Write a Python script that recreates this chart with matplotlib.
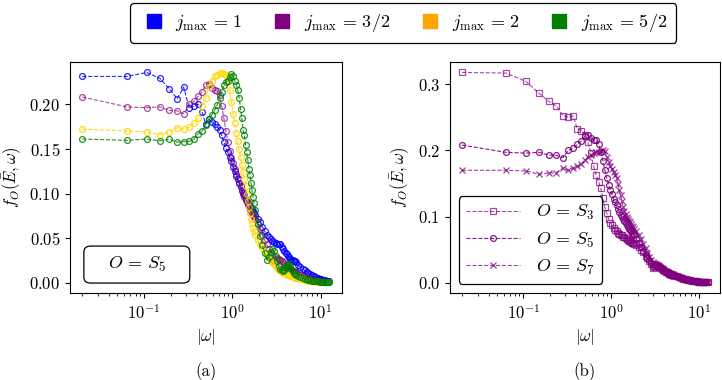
import numpy as np
import matplotlib
matplotlib.use("Agg")
import matplotlib.pyplot as plt
from matplotlib.lines import Line2D
from matplotlib.patches import FancyBboxPatch

plt.rcParams['font.family'] = 'serif'
plt.rcParams['font.serif'] = ['cmr10']
plt.rcParams['mathtext.fontset'] = 'cm'
plt.rcParams['axes.formatter.use_mathtext'] = True
plt.rcParams['font.size'] = 12

# omega grid: w_k = w0 + dw*k, sampled at these k
w0 = 0.02
dw = 0.0435
K = np.r_[0:42, 44:120:3, 127:288:8]
omega = w0 + dw * K

# --- panel (a): O = S_5, different j_max ---
f_j1 = [0.231, 0.231, 0.2355, 0.229, 0.217, 0.206, 0.219, 0.196, 0.198, 0.200,
        0.191, 0.178, 0.183, 0.180, 0.178, 0.175, 0.171, 0.165, 0.158, 0.151,
        0.146, 0.141, 0.136, 0.130, 0.125, 0.120, 0.116, 0.112, 0.108, 0.104,
        0.101, 0.098, 0.094, 0.092, 0.090, 0.088, 0.086, 0.084, 0.082, 0.080, 0.078, 0.076,
        0.072, 0.068, 0.063, 0.058, 0.054, 0.051, 0.049, 0.047, 0.046, 0.045,
        0.044, 0.044, 0.043, 0.040, 0.038, 0.036, 0.034, 0.032, 0.030, 0.029,
        0.027, 0.026, 0.026, 0.025, 0.024, 0.023,
        0.020, 0.018, 0.016, 0.014, 0.012, 0.011, 0.0095, 0.0085, 0.0075, 0.0067,
        0.006, 0.0053, 0.0047, 0.0042, 0.0037, 0.0033, 0.0029, 0.0026, 0.0023, 0.002, 0.0018]

f_j32 = [0.208, 0.197, 0.196, 0.197, 0.193, 0.1925, 0.189, 0.200, 0.203, 0.209,
         0.214, 0.221, 0.223, 0.218, 0.216, 0.215, 0.210, 0.198, 0.184, 0.170,
         0.158, 0.148, 0.140, 0.134, 0.127, 0.122, 0.117, 0.112, 0.107, 0.103,
         0.099, 0.096, 0.093, 0.090, 0.087, 0.085, 0.082, 0.080, 0.078, 0.076, 0.074, 0.072,
         0.066, 0.060, 0.054, 0.048, 0.043, 0.038, 0.034, 0.030, 0.024, 0.027,
         0.028, 0.027, 0.026, 0.024, 0.023, 0.021, 0.019, 0.018, 0.017, 0.016,
         0.015, 0.014, 0.0135, 0.013, 0.0125, 0.012,
         0.0105, 0.0092, 0.008, 0.007, 0.006, 0.0052, 0.0045, 0.0039, 0.0034, 0.003,
         0.0026, 0.0023, 0.002, 0.0018, 0.0016, 0.0014, 0.0012, 0.0011, 0.001, 0.0009, 0.0008]

f_j2 = [0.172, 0.170, 0.169, 0.166, 0.1685, 0.1737, 0.172, 0.174, 0.179, 0.185,
        0.198, 0.207, 0.219, 0.226, 0.231, 0.233, 0.235, 0.235, 0.234, 0.233,
        0.229, 0.216, 0.202, 0.189, 0.179, 0.168, 0.159, 0.150, 0.141, 0.132,
        0.124, 0.116, 0.108, 0.100, 0.092, 0.085, 0.078, 0.072, 0.067, 0.062, 0.058, 0.054,
        0.048, 0.043, 0.039, 0.035, 0.031, 0.028, 0.025, 0.023, 0.021, 0.019,
        0.0165, 0.015, 0.0135, 0.0125, 0.0115, 0.011, 0.0105, 0.0095, 0.009, 0.0085,
        0.008, 0.0075, 0.007, 0.0065, 0.006, 0.0058,
        0.005, 0.0045, 0.004, 0.0035, 0.003, 0.0027, 0.0024, 0.0021, 0.0019, 0.0017,
        0.0015, 0.0013, 0.0012, 0.0011, 0.001, 0.0009, 0.0008, 0.0007, 0.0006, 0.0005, 0.0005]

f_j52 = [0.161, 0.1595, 0.161, 0.159, 0.1607, 0.1576, 0.158, 0.1584, 0.161, 0.167,
         0.170, 0.177, 0.183, 0.188, 0.193, 0.199, 0.207, 0.214, 0.221, 0.225,
         0.226, 0.230, 0.234, 0.232, 0.226, 0.222, 0.216, 0.207, 0.195, 0.184,
         0.171, 0.165, 0.154, 0.146, 0.137, 0.128, 0.121, 0.112, 0.104, 0.096, 0.089, 0.082,
         0.066, 0.053, 0.042, 0.033, 0.026, 0.029, 0.035, 0.038, 0.036, 0.030,
         0.024, 0.019, 0.016, 0.014, 0.013, 0.0145, 0.017, 0.020, 0.021, 0.021,
         0.019, 0.016, 0.013, 0.011, 0.0095, 0.0085,
         0.0072, 0.0062, 0.0054, 0.0047, 0.0041, 0.0036, 0.0031, 0.0027, 0.0024, 0.0021,
         0.0018, 0.0016, 0.0014, 0.0012, 0.0011, 0.001, 0.0009, 0.0008, 0.0007, 0.0006, 0.0005]

# --- panel (b): j_max = 3/2, different O ---
f_S3 = [0.3176, 0.3167, 0.304, 0.286, 0.274, 0.267, 0.2525, 0.250, 0.252, 0.232,
        0.230, 0.223, 0.213, 0.196, 0.177, 0.163, 0.153, 0.143, 0.128, 0.114,
        0.105, 0.097, 0.091, 0.087, 0.083, 0.080, 0.078, 0.076, 0.074, 0.073,
        0.072, 0.070, 0.069, 0.068, 0.066, 0.065, 0.064, 0.063, 0.062, 0.061, 0.060, 0.059,
        0.057, 0.054, 0.050, 0.046, 0.041, 0.037, 0.033, 0.028, 0.022, 0.025,
        0.026, 0.025, 0.024, 0.023, 0.021, 0.020, 0.018, 0.017, 0.016, 0.015,
        0.014, 0.013, 0.0125, 0.012, 0.0115, 0.011,
        0.0098, 0.0086, 0.0075, 0.0065, 0.0056, 0.0049, 0.0042, 0.0037, 0.0032, 0.0028,
        0.0025, 0.0022, 0.0019, 0.0017, 0.0015, 0.0013, 0.0012, 0.001, 0.0009, 0.0008, 0.0007]

f_S5 = f_j32

f_S7 = [0.170, 0.170, 0.169, 0.164, 0.166, 0.166, 0.1737, 0.170, 0.173, 0.176,
        0.180, 0.185, 0.190, 0.193, 0.196, 0.198, 0.197, 0.199, 0.200, 0.199,
        0.190, 0.182, 0.176, 0.172, 0.168, 0.163, 0.158, 0.150, 0.140, 0.132,
        0.123, 0.115, 0.109, 0.104, 0.100, 0.097, 0.094, 0.092, 0.089, 0.086, 0.084, 0.082,
        0.078, 0.072, 0.066, 0.059, 0.052, 0.045, 0.039, 0.034, 0.031, 0.030,
        0.029, 0.027, 0.026, 0.024, 0.023, 0.021, 0.020, 0.018, 0.017, 0.016,
        0.015, 0.0145, 0.014, 0.0135, 0.013, 0.0125,
        0.011, 0.0097, 0.0085, 0.0074, 0.0064, 0.0056, 0.0048, 0.0042, 0.0036, 0.0032,
        0.0028, 0.0025, 0.0022, 0.0019, 0.0017, 0.0015, 0.0013, 0.0012, 0.0011, 0.001, 0.0009]

j_labels = [r'$j_{\max}\,=\,1$', r'$j_{\max}\,=\,3/2$', r'$j_{\max}\,=\,2$', r'$j_{\max}\,=\,5/2$']
j_series = [f_j1, f_j32, f_j2, f_j52]
j_colors = ['blue', 'purple', 'gold', 'green']
j_legend_colors = ['blue', 'purple', 'orange', 'green']
j_alpha = [0.85, 0.7, 0.9, 0.85]

O_labels = [r'$O\,=\,S_3$', r'$O\,=\,S_5$', r'$O\,=\,S_7$']
O_series = [f_S3, f_S5, f_S7]
O_markers = ['s', 'o', 'x']
O_alpha = [0.7, 0.9, 0.75]

fig = plt.figure(figsize=(7.22, 3.8), dpi=100)
ax1 = fig.add_axes([0.097, 0.229, 0.376, 0.608])
ax2 = fig.add_axes([0.623, 0.229, 0.374, 0.608])

for f, c, a in zip(j_series, j_colors, j_alpha):
    ax1.plot(omega, f, linestyle='--', linewidth=0.8, color=c, alpha=a,
             marker='o', markersize=4.2, markerfacecolor='none', markeredgewidth=0.9)
ax1.set_xscale('log')
ax1.set_xlabel(r'$|\omega|$')
ax1.set_ylabel(r'$f_O(\bar{E},\omega)$')
ax1.text(0.5, -0.34, '(a)', transform=ax1.transAxes, ha='center', va='center')

box = FancyBboxPatch((0.051, 0.043), 0.39, 0.16, transform=ax1.transAxes,
                     boxstyle='round,pad=0,rounding_size=0.025', facecolor='white',
                     edgecolor='black', linewidth=0.9, zorder=5)
ax1.add_patch(box)
ax1.text(0.246, 0.123, r'$O\,=\,S_5$', transform=ax1.transAxes, ha='center', va='center',
         fontsize=13, zorder=6)

for f, m, a, lab in zip(O_series, O_markers, O_alpha, O_labels):
    ax2.plot(omega, f, linestyle='--', linewidth=0.8, color='purple', alpha=a,
             marker=m, markersize=4.2, markerfacecolor='none', markeredgewidth=0.9, label=lab)
ax2.set_xscale('log')
ax2.set_xlabel(r'$|\omega|$')
ax2.set_ylabel(r'$f_O(\bar{E},\omega)$')
ax2.text(0.5, -0.34, '(b)', transform=ax2.transAxes, ha='center', va='center')
leg2 = ax2.legend(loc='lower left', handlelength=3.0, fancybox=True, framealpha=1,
                  edgecolor='black', borderaxespad=0.5, fontsize=13,
                  handletextpad=0.9, labelspacing=0.45)
leg2.get_frame().set_linewidth(0.9)

handles = [Line2D([], [], marker='s', linestyle='none', color=c, markersize=10)
           for c in j_legend_colors]
leg = fig.legend(handles, j_labels, loc='upper left', bbox_to_anchor=(0.1676, 1.016),
                 ncol=4, fancybox=True, framealpha=1, edgecolor='black', fontsize=13,
                 handlelength=1.6, handletextpad=0.4, columnspacing=1.4, borderpad=0.5)
leg.get_frame().set_linewidth(0.9)

fig.savefig('out.png', dpi=100)
